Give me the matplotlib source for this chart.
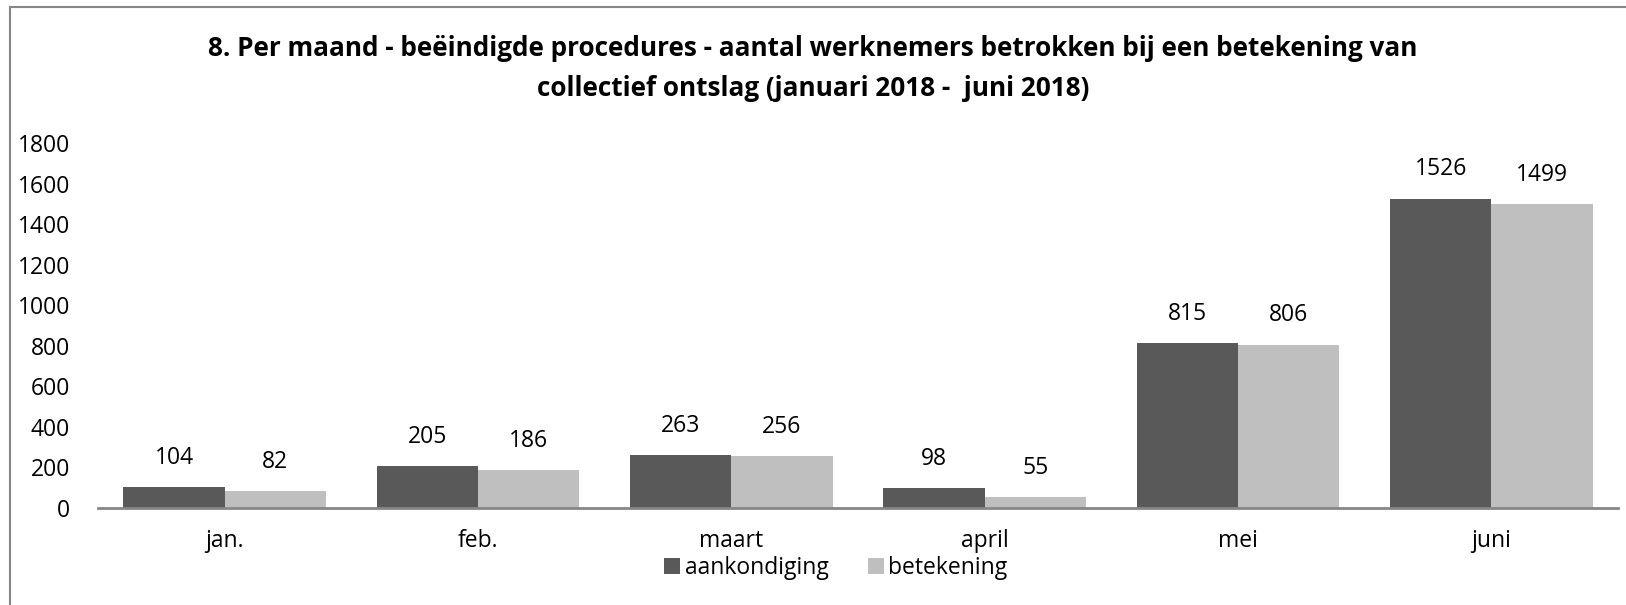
import numpy as np
import matplotlib
matplotlib.use("Agg")
import matplotlib.pyplot as plt
from matplotlib.patches import Rectangle, Patch

plt.rcParams['font.family'] = ['Open Sans', 'DejaVu Sans']

# data
months = ['jan.', 'feb.', 'maart', 'april', 'mei', 'juni']
aankondiging = [104, 205, 263, 98, 815, 1526]
betekening = [82, 186, 256, 55, 806, 1499]
series_names = ['aankondiging', 'betekening']
yticks = [0, 200, 400, 600, 800, 1000, 1200, 1400, 1600, 1800]

dark = '#595959'
light = '#BFBFBF'
grey_line = '#868686'
fs = 16.5

W, H = 1626, 605
fig = plt.figure(figsize=(W / 100, H / 100), dpi=100)

# outer chart border (right and bottom edges fall outside the image)
fig.patches.append(Rectangle((10 / W, -0.1), 1.2, 1 - 7 / H + 0.1,
                             transform=fig.transFigure, fill=False,
                             edgecolor=grey_line, linewidth=1.5))

ax = fig.add_axes([98 / W, 1 - 508 / H, (1618 - 98) / W, (508 - 143) / H])

x = np.arange(len(months))
w = 0.4
b1 = ax.bar(x - w / 2, aankondiging, w, color=dark, label=series_names[0])
b2 = ax.bar(x + w / 2, betekening, w, color=light, label=series_names[1])

for bars, vals in ((b1, aankondiging), (b2, betekening)):
    for r, v in zip(bars, vals):
        ax.annotate(str(v), (r.get_x() + r.get_width() / 2, v),
                    xytext=(0, 21), textcoords='offset points',
                    ha='center', va='center', fontsize=fs, color='black')

ax.set_xlim(-0.5, len(months) - 0.5)
ax.set_ylim(0, 1800)
ax.set_yticks(yticks)
ax.set_yticklabels([str(t) for t in yticks], fontsize=fs)
ax.set_xticks(x)
ax.set_xticklabels(months, fontsize=fs)
ax.tick_params(axis='both', length=0)
ax.tick_params(axis='y', pad=20)
ax.tick_params(axis='x', pad=15)

for s in ['top', 'right', 'left']:
    ax.spines[s].set_visible(False)
ax.spines['bottom'].set_color(grey_line)
ax.spines['bottom'].set_linewidth(2)

fig.text(0.5, 1 - 49 / H,
         '8. Per maand - beëindigde procedures - aantal werknemers betrokken bij een betekening van',
         ha='center', va='center', fontsize=18.8, fontweight='bold')
fig.text(0.5, 1 - 88 / H,
         'collectief ontslag (januari 2018 -  juni 2018)',
         ha='center', va='center', fontsize=18.8, fontweight='bold')

handles = [Patch(facecolor=dark, label=series_names[0]),
           Patch(facecolor=light, label=series_names[1])]
fig.legend(handles=handles, loc='center', bbox_to_anchor=(836 / W, 1 - 568 / H),
           ncol=2, frameon=False, fontsize=fs, handlelength=0.7,
           handleheight=0.7, handletextpad=0.2, columnspacing=1.7,
           borderpad=0)

fig.savefig('out.png', dpi=100, facecolor='white')
